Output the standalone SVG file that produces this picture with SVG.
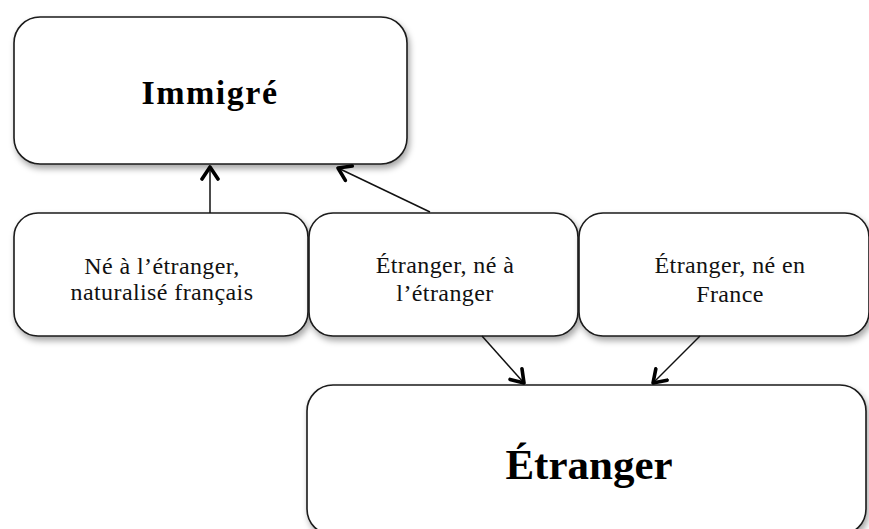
<svg xmlns="http://www.w3.org/2000/svg" width="869" height="529" viewBox="0 0 869 529">
<style>
.box{fill:#fff;stroke:#1a1a1a;stroke-width:1.6;filter:url(#sh)}
.big{font-family:"Liberation Serif","DejaVu Serif",serif;font-weight:bold;text-anchor:middle;fill:#000}
.sm{font-family:"Liberation Serif","DejaVu Serif",serif;font-size:24px;letter-spacing:0.4px;text-anchor:middle;fill:#111}
.con{stroke:#111;stroke-width:1.5;fill:none;marker-end:url(#ah)}
</style>
<defs>
<filter id="sh" x="-10%" y="-10%" width="130%" height="140%">
<feDropShadow dx="2" dy="4" stdDeviation="3" flood-color="#000" flood-opacity="0.35"/>
</filter>
<marker id="ah" viewBox="0 0 16 20" refX="14" refY="10" markerWidth="16" markerHeight="20" markerUnits="userSpaceOnUse" orient="auto">
<path d="M2,2 L14,10 L2,18" fill="none" stroke="#000" stroke-width="3.6" stroke-linecap="round" stroke-linejoin="round"/>
</marker>
</defs>
<g id="immigre">
<rect class="box" x="14" y="17" width="393" height="147" rx="26"/>
<text class="big" x="210" y="104" font-size="34" letter-spacing="1.5">Immigré</text>
</g>
<g id="ne-etranger-naturalise">
<rect class="box" x="14" y="213" width="294" height="123" rx="24"/>
<text class="sm" x="162" y="274">Né à l’étranger,</text>
<text class="sm" x="162" y="300">naturalisé français</text>
</g>
<g id="etranger-ne-etranger">
<rect class="box" x="309" y="213" width="269" height="123" rx="24"/>
<text class="sm" x="445" y="273">Étranger, né à</text>
<text class="sm" x="445" y="301">l’étranger</text>
</g>
<g id="etranger-ne-france">
<rect class="box" x="579" y="213" width="290" height="123" rx="24"/>
<text class="sm" x="730" y="273">Étranger, né en</text>
<text class="sm" x="730" y="302">France</text>
</g>
<g id="etranger">
<rect class="box" x="307" y="385" width="559" height="150" rx="26"/>
<text class="big" x="589" y="479" font-size="43">Étranger</text>
</g>
<g id="connectors">
<line class="con" x1="210" y1="213" x2="210" y2="167"/>
<line class="con" x1="430" y1="212" x2="338" y2="168"/>
<line class="con" x1="482" y1="336" x2="524" y2="383"/>
<line class="con" x1="700" y1="336" x2="653" y2="383"/>
</g>
</svg>
